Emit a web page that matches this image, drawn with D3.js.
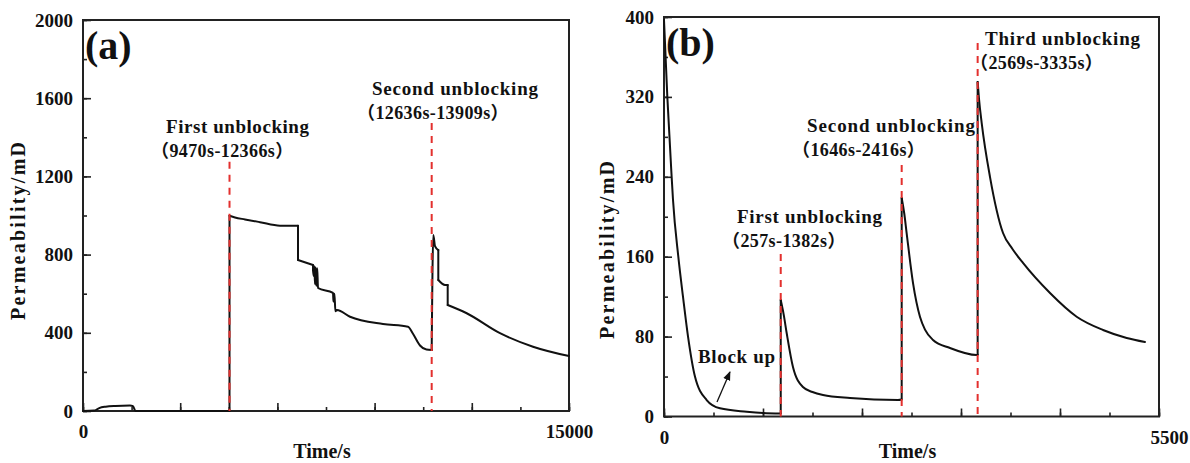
<!DOCTYPE html>
<html>
<head>
<meta charset="utf-8">
<script src="https://cdn.jsdelivr.net/npm/d3@7"></script>
<style>
  body { margin: 0; background: #fff; }
  svg text { font-family: "Liberation Serif", "Times New Roman", serif; font-weight: bold; fill: #111; }
  svg text.cjk { font-family: "Liberation Serif", "Noto Sans CJK SC", serif; }
</style>
</head>
<body>
<div id="chart"></div>
<script>
// panel (a) data
let timeA = [0, 340, 500, 700, 1000, 1450, 1543, 1620, 4522, 4522, 4691, 5000, 5463, 6080, 6636, 6636, 7099,
  7099, 7120, 7140, 7160, 7180, 7200, 7230, 7253, 7716, 7730, 7760, 7790, 7839, 8241, 9259, 10031,
  10185, 10401, 10600, 10762, 10762, 10812, 10864, 10966, 10966, 11173, 11256, 11256, 11843, 12870, 13889, 15000]
let permA = [0, 2, 15, 22, 26, 28, 25, 0, 0, 999, 990, 980, 966, 948, 948, 772, 747,
  720, 690, 740, 650, 735, 640, 730, 629, 604, 560, 600, 510, 517, 482, 445, 431,
  395, 335, 314, 312, 312, 900, 843, 823, 670, 645, 645, 542, 500, 398, 329, 281]
let unblockA = [4522, 10762]
let unblockTopA = [1275, 1473]

// panel (b) data
let timeB = [0, 37, 85, 100, 159, 211, 267, 344, 474, 622, 919, 1100, 1297, 1297, 1330, 1363, 1433, 1544,
  1650, 1767, 2067, 2600, 2641, 2641, 2670, 2696, 2767, 2844, 2900, 2989, 3178, 3474, 3485, 3485, 3500, 3530,
  3622, 3767, 3870, 3989, 4289, 4585, 4878, 5141, 5344]
let permB = [397, 320, 240, 217, 160, 120, 80, 40, 16.5, 8.2, 4.8, 3.5, 3, 116.6, 102, 83.6, 49.6, 29.5,
  24.5, 21.5, 18.5, 16.5, 17, 218.8, 203, 183.7, 133.6, 99.9, 87, 76.6, 68.6, 61.6, 62, 335, 318, 293.8,
  240, 183.7, 168, 153.7, 123.6, 99.9, 86.6, 78.6, 74.6]
let unblockB = [1297, 2641, 3485]
let unblockTopB = [162.7, 251.8, 374]

let yTicksA = [0, 400, 800, 1200, 1600, 2000]
let xTicksA = [0, 3000, 6000, 9000, 12000, 15000]
let yTicksB = [0, 80, 160, 240, 320, 400]
let xTicksB = [0, 1100, 2200, 3300, 4400, 5500]

let labelsA = [["First unblocking", "（9470s-12366s）"], ["Second unblocking", "（12636s-13909s）"]]
let labelsB = [["First unblocking", "（257s-1382s）"], ["Second unblocking", "（1646s-2416s）"], ["Third unblocking", "（2569s-3335s）"]]

var svg = d3.select("#chart").append("svg")
  .attr("width", 1190)
  .attr("height", 463)

var defs = svg.append("defs")
defs.append("marker")
  .attr("id", "arrow")
  .attr("viewBox", "0 0 10 10")
  .attr("refX", 9).attr("refY", 5)
  .attr("markerWidth", 7).attr("markerHeight", 7)
  .attr("orient", "auto")
  .append("path")
  .attr("d", "M0,1 L10,5 L0,9 Z")
  .attr("fill", "#111")

function drawPanel(o) {
  var x = d3.scaleLinear().domain(o.xDomain).range([o.left, o.right])
  var y = d3.scaleLinear().domain(o.yDomain).range([o.bottom, o.top])
  var g = svg.append("g")

  // minor ticks
  var xMinor = d3.range(o.xDomain[0], o.xDomain[1] + 1, o.xStep / 2)
  var yMinor = d3.range(o.yDomain[0], o.yDomain[1] + 1, o.yStep / 2)
  g.append("g")
    .attr("transform", "translate(0," + o.bottom + ")")
    .call(d3.axisBottom(x).tickValues(xMinor).tickSize(-4).tickFormat(""))
    .call(a => a.select(".domain").remove())
  g.append("g")
    .attr("transform", "translate(" + o.left + ",0)")
    .call(d3.axisLeft(y).tickValues(yMinor).tickSize(-4).tickFormat(""))
    .call(a => a.select(".domain").remove())

  // major ticks + labels
  var xAx = g.append("g")
    .attr("transform", "translate(0," + o.bottom + ")")
    .call(d3.axisBottom(x).tickValues(o.xTicks).tickSize(-8).tickPadding(14)
      .tickFormat(d => (d == o.xDomain[0] || d == o.xDomain[1]) ? d : ""))
  xAx.select(".domain").remove()
  xAx.selectAll("text").style("font-size", "19px")
  xAx.selectAll(".tick").filter(d => d == o.xDomain[1]).select("text").attr("dx", o.lastDx)
  var yAx = g.append("g")
    .attr("transform", "translate(" + o.left + ",0)")
    .call(d3.axisLeft(y).tickValues(o.yTicks).tickSize(-8).tickPadding(10).tickFormat(d3.format("d")))
  yAx.select(".domain").remove()
  yAx.selectAll("text").style("font-size", "19px")
  g.selectAll(".tick line").attr("stroke", "#222").attr("stroke-width", 1.6)

  // frame
  g.append("rect")
    .attr("x", o.left).attr("y", o.top)
    .attr("width", o.right - o.left).attr("height", o.bottom - o.top)
    .attr("fill", "none").attr("stroke", "#222").attr("stroke-width", 2)

  // curve: smooth runs, straight vertical jumps where the time repeats
  var pts = o.time.map((t, i) => [t, o.perm[i]])
  var runs = [[pts[0]]]
  var jumps = []
  for (var i = 1; i < pts.length; i++) {
    if (pts[i][0] == pts[i - 1][0]) {
      jumps.push([pts[i - 1], pts[i]])
      runs.push([pts[i]])
    } else {
      runs[runs.length - 1].push(pts[i])
    }
  }
  var smooth = d3.line().x(d => x(d[0])).y(d => y(d[1])).curve(d3.curveMonotoneX)
  var straight = d3.line().x(d => x(d[0])).y(d => y(d[1]))
  g.selectAll(".run")
    .data(runs.filter(r => r.length > 1))
    .enter()
    .append("path")
    .attr("d", smooth)
    .attr("fill", "none")
    .attr("stroke", "#111")
    .attr("stroke-width", 2)
    .attr("stroke-linejoin", "round")
    .attr("stroke-linecap", "round")
  g.selectAll(".jump")
    .data(jumps)
    .enter()
    .append("path")
    .attr("d", straight)
    .attr("fill", "none")
    .attr("stroke", "#111")
    .attr("stroke-width", 2)
    .attr("stroke-linecap", "round")

  // unblocking lines
  g.selectAll(".unblock")
    .data(o.unblock)
    .enter()
    .append("line")
    .attr("x1", d => x(d)).attr("x2", d => x(d))
    .attr("y1", (d, i) => y(o.unblockTop[i])).attr("y2", y(0))
    .attr("stroke", "#e3302e")
    .attr("stroke-width", 2)
    .attr("stroke-dasharray", "7,6")

  // annotations
  o.labels.forEach(function(lab, i) {
    var p = o.labelPos[i]
    g.append("text")
      .attr("x", p[0]).attr("y", p[1])
      .attr("textLength", p[2]).attr("lengthAdjust", "spacing")
      .style("font-size", "19px")
      .text(lab[0])
    g.append("text")
      .attr("class", "cjk")
      .attr("x", p[0] - 15).attr("y", p[1] + 24)
      .style("font-size", "18px")
      .style("letter-spacing", "0.4px")
      .text(lab[1])
  })

  // panel letter
  g.append("text")
    .attr("x", o.left + 2).attr("y", o.top + 39)
    .style("font-size", "40px")
    .text("(" + o.id + ")")

  // axis titles
  g.append("text")
    .attr("x", (o.left + o.right) / 2 - 4).attr("y", 458)
    .attr("text-anchor", "middle")
    .style("font-size", "20px")
    .text("Time/s")
  g.append("text")
    .attr("transform", "translate(" + o.yTitleX + "," + o.yTitleY + ") rotate(-90)")
    .attr("text-anchor", "middle")
    .attr("textLength", 178).attr("lengthAdjust", "spacing")
    .style("font-size", "20px")
    .text("Permeability/mD")

  return {x: x, y: y, g: g}
}

var pa = drawPanel({
  id: "a", left: 83, right: 569, top: 20, bottom: 411,
  xDomain: [0, 15000], yDomain: [0, 2000], xStep: 3000, yStep: 400,
  xTicks: xTicksA, yTicks: yTicksA, lastDx: 0,
  time: timeA, perm: permA, unblock: unblockA, unblockTop: unblockTopA,
  labels: labelsA, labelPos: [[166, 133, 143], [372, 95, 166]],
  yTitleX: 25, yTitleY: 231
})

var pb = drawPanel({
  id: "b", left: 664, right: 1159, top: 17, bottom: 416.5,
  xDomain: [0, 5500], yDomain: [0, 400], xStep: 1100, yStep: 80,
  xTicks: xTicksB, yTicks: yTicksB, lastDx: 10,
  time: timeB, perm: permB, unblock: unblockB, unblockTop: unblockTopB,
  labels: labelsB, labelPos: [[737, 223, 145], [807, 132, 168], [985, 45, 155]],
  yTitleX: 614, yTitleY: 250
})

// block up note
pb.g.append("text")
  .attr("x", 698).attr("y", pb.y(14) - 40)
  .attr("textLength", 77).attr("lengthAdjust", "spacing")
  .style("font-size", "19px")
  .text("Block up")
pb.g.append("line")
  .attr("x1", pb.x(589)).attr("y1", pb.y(14.5))
  .attr("x2", pb.x(733)).attr("y2", pb.y(44.6))
  .attr("stroke", "#111")
  .attr("stroke-width", 1.3)
  .attr("marker-end", "url(#arrow)")
</script>
</body>
</html>
